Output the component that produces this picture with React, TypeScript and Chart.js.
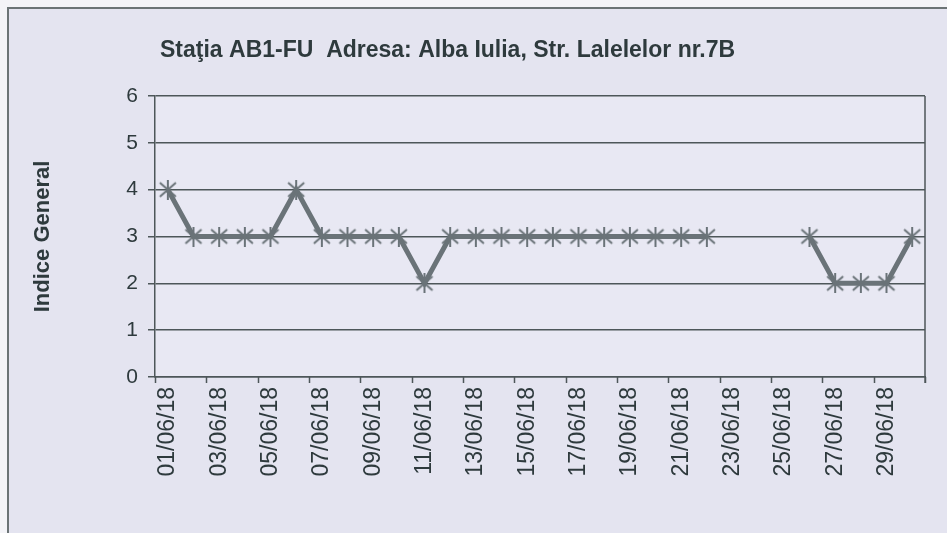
import React, { useEffect, useRef } from "react";
import { Chart, registerables } from "chart.js";

Chart.register(...registerables);

const titleText = "Staţia AB1-FU  Adresa: Alba Iulia, Str. Lalelelor nr.7B";
const yTitle = "Indice General";
const days: string[] = [
  "01/06/18", "02/06/18", "03/06/18", "04/06/18", "05/06/18", "06/06/18",
  "07/06/18", "08/06/18", "09/06/18", "10/06/18", "11/06/18", "12/06/18",
  "13/06/18", "14/06/18", "15/06/18", "16/06/18", "17/06/18", "18/06/18",
  "19/06/18", "20/06/18", "21/06/18", "22/06/18", "23/06/18", "24/06/18",
  "25/06/18", "26/06/18", "27/06/18", "28/06/18", "29/06/18", "30/06/18",
];
const indexValues: (number | null)[] = [
  4, 3, 3, 3, 3, 4, 3, 3, 3, 3,
  2, 3, 3, 3, 3, 3, 3, 3, 3, 3,
  3, 3, null, null, null, 3, 2, 2, 2, 3,
];
const yMin = 0;
const yMax = 6;

const FONT = "Arial, 'Liberation Sans', sans-serif";
const BG = "#e4e4f0";
const GRID = "#4d5659";
const LINE = "#6a7378";
const TEXT = "#2e3a3d";

function makeStar(): HTMLCanvasElement {
  const c = document.createElement("canvas");
  c.width = 20;
  c.height = 20;
  const g = c.getContext("2d")!;
  g.strokeStyle = LINE;
  g.lineWidth = 2;
  g.beginPath();
  g.moveTo(2, 3); g.lineTo(18, 17);
  g.moveTo(18, 3); g.lineTo(2, 17);
  g.moveTo(10, 0); g.lineTo(10, 20);
  g.stroke();
  return c;
}

const framePlugin = {
  id: "framePlugin",
  beforeDraw(chart: any) {
    const ctx = chart.ctx;
    const w = chart.width, h = chart.height;
    ctx.save();
    ctx.fillStyle = "#f4f4f8";
    ctx.fillRect(0, 0, w, h);
    ctx.fillStyle = BG;
    ctx.fillRect(8, 8, w - 8, h - 8);
    ctx.strokeStyle = "#6c7476";
    ctx.lineWidth = 2;
    ctx.beginPath();
    ctx.moveTo(8, h);
    ctx.lineTo(8, 8);
    ctx.lineTo(w, 8);
    ctx.stroke();
    const a = chart.chartArea;
    ctx.fillStyle = "#e8e8f3";
    ctx.fillRect(a.left, a.top, a.right - a.left, a.bottom - a.top);
    ctx.fillStyle = TEXT;
    ctx.font = `bold 23px ${FONT}`;
    ctx.textAlign = "left";
    ctx.textBaseline = "middle";
    ctx.fillText(titleText, 160, 51);
    ctx.restore();
  },
  afterDatasetsDraw(chart: any) {
    const ctx = chart.ctx;
    const a = chart.chartArea;
    const xs = chart.scales.x;
    ctx.save();
    ctx.strokeStyle = GRID;
    ctx.lineWidth = 1.5;
    ctx.beginPath();
    ctx.moveTo(a.right, a.top);
    ctx.lineTo(a.right, a.bottom);
    const step = xs.getPixelForValue(1) - xs.getPixelForValue(0);
    for (let i = 0; i <= days.length; i += 2) {
      const px = Math.round(xs.getPixelForValue(0) - step / 2 + i * step) + 0.5;
      ctx.moveTo(px, a.bottom);
      ctx.lineTo(px, a.bottom + 6);
    }
    ctx.moveTo(a.right, a.bottom);
    ctx.lineTo(a.right, a.bottom + 6);
    ctx.stroke();
    ctx.restore();
  },
};

export default function App() {
  const ref = useRef<HTMLCanvasElement>(null);
  useEffect(() => {
    document.body.style.margin = "0";
    const star = makeStar();
    const chart = new Chart(ref.current!, {
      type: "line",
      data: {
        labels: days,
        datasets: [
          {
            data: indexValues,
            borderColor: LINE,
            borderWidth: 5,
            pointStyle: star as any,
            pointRadius: 10,
            spanGaps: false,
            tension: 0,
          },
        ],
      },
      options: {
        animation: false,
        responsive: false,
        layout: { padding: { left: 30, top: 96, right: 22, bottom: 0 } },
        plugins: { legend: { display: false }, tooltip: { enabled: false } },
        scales: {
          x: {
            offset: true,
            grid: { display: false, drawTicks: false },
            border: { color: GRID, width: 1.5 },
            ticks: {
              autoSkip: false,
              maxRotation: 90,
              minRotation: 90,
              color: TEXT,
              padding: 10,
              font: { family: FONT, size: 23 },
              callback: (_v: any, i: number) => (i % 2 === 0 ? days[i] : ""),
            },
            afterFit: (s: any) => {
              s.height = 156;
              s.paddingLeft = 0;
              s.paddingRight = 0;
            },
          },
          y: {
            min: yMin,
            max: yMax,
            grid: { color: GRID, lineWidth: 1.5, tickLength: 7 },
            border: { color: GRID, width: 1.5 },
            ticks: {
              stepSize: 1,
              color: TEXT,
              padding: 10,
              font: { family: FONT, size: 21 },
            },
            title: {
              display: true,
              text: yTitle,
              color: TEXT,
              font: { family: FONT, size: 22, weight: "bold" },
              padding: { top: 0, bottom: 0 },
            },
            afterFit: (s: any) => { s.width = 125; },
          },
        },
      },
      plugins: [framePlugin],
    });
    return () => chart.destroy();
  }, []);
  return <canvas ref={ref} width={947} height={533} style={{ display: "block" }} />;
}
